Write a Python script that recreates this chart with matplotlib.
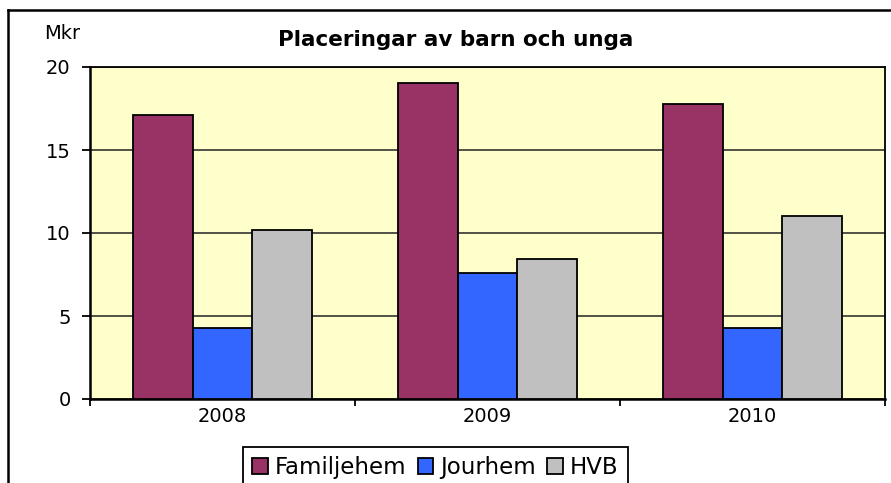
import numpy as np
import matplotlib.pyplot as plt
from matplotlib.lines import Line2D

years = ['2008', '2009', '2010']
series_names = ['Familjehem', 'Jourhem', 'HVB']
familjehem = [17.1, 19.05, 17.75]
jourhem = [4.25, 7.6, 4.3]
hvb = [10.2, 8.45, 11.05]
colors = ['#993366', '#3366FF', '#C0C0C0']

W, H = 891, 483
fig = plt.figure(figsize=(W / 100, H / 100), dpi=100)
plt.rcParams['font.family'] = ['DejaVu Sans']

ax = fig.add_axes([90 / W, 1 - 399 / H, 795 / W, 332 / H])
ax.set_facecolor('#FFFFCC')

x = np.arange(len(years))
width = 0.224
for i, (vals, name) in enumerate(zip([familjehem, jourhem, hvb], series_names)):
    ax.bar(x + (i - 1) * width, vals, width, color=colors[i], edgecolor='black',
           linewidth=1.3, label=name, zorder=3)

ax.set_xlim(-0.5, 2.5)
ax.set_ylim(0, 20)
ax.set_yticks([0, 5, 10, 15, 20])
ax.yaxis.grid(True, color='#222222', linewidth=1.1, zorder=1)
ax.set_axisbelow(True)

# group borders get the ticks, years sit in between
ax.set_xticks([-0.5, 0.5, 1.5, 2.5])
ax.set_xticklabels([])
ax.set_xticks(x, minor=True)
ax.set_xticklabels(years, minor=True)
ax.tick_params(axis='x', which='minor', length=0, pad=6, labelsize=14)
ax.tick_params(axis='x', which='major', direction='out', length=5, width=1.3)
ax.tick_params(axis='y', direction='out', length=6, width=1.3, pad=8, labelsize=14)

for s in ax.spines.values():
    s.set_color('black')
    s.set_linewidth(1.3)
ax.spines['left'].set_linewidth(1.8)
ax.spines['bottom'].set_linewidth(1.8)

fig.text(456 / W, 1 - 46 / H, 'Placeringar av barn och unga', ha='center',
         va='baseline', fontsize=15.5, fontweight='bold')
fig.text(44 / W, 1 - 39 / H, 'Mkr', ha='left', va='baseline', fontsize=14)

leg = ax.legend(loc='upper left', bbox_to_anchor=(243 / W, 1 - 447 / H),
                bbox_transform=fig.transFigure, ncol=3, fontsize=16.5,
                frameon=True, fancybox=False, shadow=False,
                handlelength=0.68, handleheight=0.68, handletextpad=0.3,
                columnspacing=0.5, borderpad=0.4, borderaxespad=0)
leg.get_frame().set_edgecolor('black')
leg.get_frame().set_linewidth(1.3)
leg.get_frame().set_facecolor('white')
leg.get_frame().set_alpha(1)

# outer chart border, cut off by the image at bottom and right
fig.add_artist(Line2D([7.5 / W, 1.0], [1 - 10 / H, 1 - 10 / H],
                      transform=fig.transFigure, color='black', linewidth=1.8))
fig.add_artist(Line2D([7.5 / W, 7.5 / W], [1 - 10 / H, 0.0],
                      transform=fig.transFigure, color='black', linewidth=1.8))

fig.savefig('out.png', dpi=100)
